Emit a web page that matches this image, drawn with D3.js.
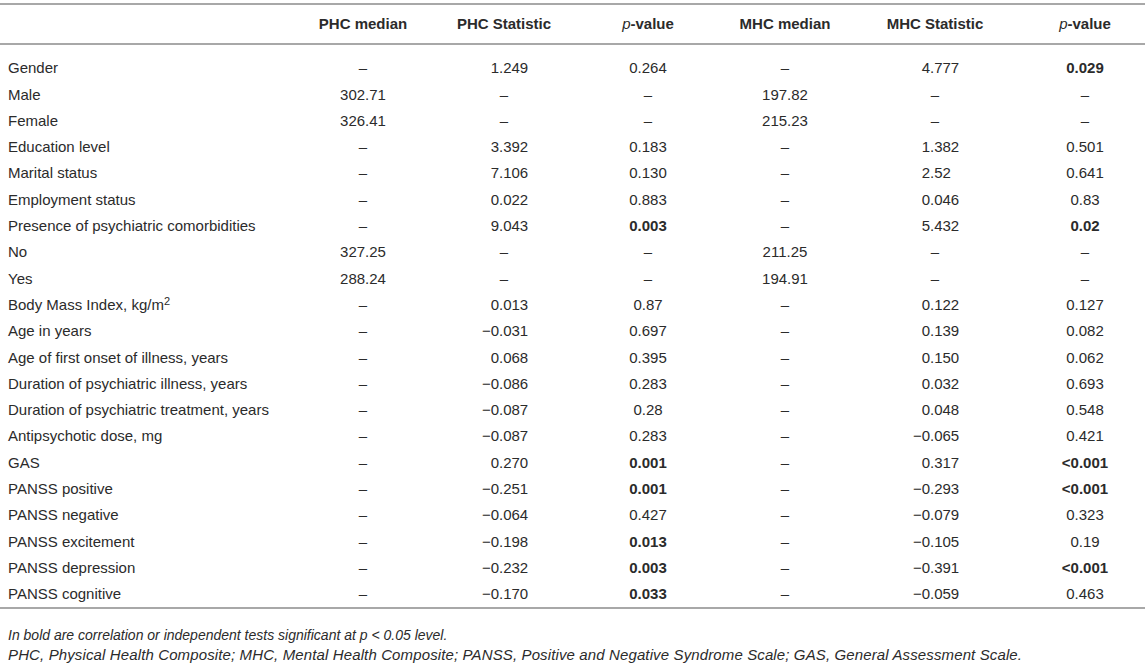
<!DOCTYPE html>
<html>
<head>
<meta charset="utf-8">
<script src="https://cdn.jsdelivr.net/npm/d3@7"></script>
<style>
  body { margin: 0; background: #fff; }
  text { font-family: "Liberation Sans", Arial, sans-serif; fill: #2b2b2b; }
</style>
</head>
<body>
<div id="tabla"></div>
<script>
const WIDTH = 1145;
const HEIGHT = 665;

// table contents
const headers = ["PHC median", "PHC Statistic", "p-value", "MHC median", "MHC Statistic", "p-value"];
const rowLabels = ["Gender", "Male", "Female", "Education level", "Marital status", "Employment status",
  "Presence of psychiatric comorbidities", "No", "Yes", "Body Mass Index, kg/m", "Age in years",
  "Age of first onset of illness, years", "Duration of psychiatric illness, years",
  "Duration of psychiatric treatment, years", "Antipsychotic dose, mg", "GAS", "PANSS positive",
  "PANSS negative", "PANSS excitement", "PANSS depression", "PANSS cognitive"];
const phcMedian = ["–", "302.71", "326.41", "–", "–", "–", "–", "327.25", "288.24", "–", "–", "–", "–", "–", "–", "–", "–", "–", "–", "–", "–"];
const phcStat = ["1.249", "–", "–", "3.392", "7.106", "0.022", "9.043", "–", "–", "0.013", "−0.031", "0.068", "−0.086", "−0.087", "−0.087", "0.270", "−0.251", "−0.064", "−0.198", "−0.232", "−0.170"];
const phcP = ["0.264", "–", "–", "0.183", "0.130", "0.883", "0.003", "–", "–", "0.87", "0.697", "0.395", "0.283", "0.28", "0.283", "0.001", "0.001", "0.427", "0.013", "0.003", "0.033"];
const phcBold = [0, 0, 0, 0, 0, 0, 1, 0, 0, 0, 0, 0, 0, 0, 0, 1, 1, 0, 1, 1, 1];
const mhcMedian = ["–", "197.82", "215.23", "–", "–", "–", "–", "211.25", "194.91", "–", "–", "–", "–", "–", "–", "–", "–", "–", "–", "–", "–"];
const mhcStat = ["4.777", "–", "–", "1.382", "2.52", "0.046", "5.432", "–", "–", "0.122", "0.139", "0.150", "0.032", "0.048", "−0.065", "0.317", "−0.293", "−0.079", "−0.105", "−0.391", "−0.059"];
const mhcP = ["0.029", "–", "–", "0.501", "0.641", "0.83", "0.02", "–", "–", "0.127", "0.082", "0.062", "0.693", "0.548", "0.421", "<0.001", "<0.001", "0.323", "0.19", "<0.001", "0.463"];
const mhcBold = [1, 0, 0, 0, 0, 0, 1, 0, 0, 0, 0, 0, 0, 0, 0, 1, 1, 0, 0, 1, 0];
const notes = [
  "In bold are correlation or independent tests significant at p < 0.05 level.",
  "PHC, Physical Health Composite; MHC, Mental Health Composite; PANSS, Positive and Negative Syndrome Scale; GAS, General Assessment Scale."
];

const FONT = 15;

let svg = d3.select("#tabla")
    .append("svg")
    .attr("width", WIDTH)
    .attr("height", HEIGHT);

// column centres and row positions
let colX = d3.scaleOrdinal()
    .domain(d3.range(6))
    .range([363, 504, 648, 785, 935, 1085]);

let rowY = d3.scalePoint()
    .domain(d3.range(rowLabels.length))
    .range([68, 594]);

// rules
[4, 44, 608].forEach(y => {
    svg.append("line")
        .attr("x1", 0).attr("x2", WIDTH)
        .attr("y1", y).attr("y2", y)
        .style("stroke", "#a8a8a8")
        .style("stroke-width", 2);
});

// header
let head = svg.append("g").attr("class", "header");
headers.forEach((h, i) => {
    let t = head.append("text")
        .attr("x", colX(i))
        .attr("y", 24)
        .attr("dy", "0.35em")
        .attr("text-anchor", "middle")
        .style("font-size", FONT + "px")
        .style("font-weight", "bold");
    if (h.startsWith("p-")) {
        t.append("tspan").style("font-style", "italic").style("font-weight", "normal").text("p");
        t.append("tspan").text("-value");
    } else {
        t.text(h);
    }
});

// row labels
let labels = svg.append("g").selectAll("text")
    .data(rowLabels)
    .enter()
    .append("text")
    .attr("x", 8)
    .attr("y", (d, i) => rowY(i))
    .attr("dy", "0.35em")
    .style("font-size", FONT + "px")
    .text(d => d);

labels.filter(d => d.endsWith("kg/m"))
    .append("tspan")
    .attr("dy", "-0.45em")
    .style("font-size", (FONT - 4) + "px")
    .text("2");

// centred columns
function centred(values, col, bold) {
    svg.append("g").selectAll("text")
        .data(values)
        .enter()
        .append("text")
        .attr("x", colX(col))
        .attr("y", (d, i) => rowY(i))
        .attr("dy", "0.35em")
        .attr("text-anchor", "middle")
        .style("font-size", FONT + "px")
        .style("font-weight", (d, i) => bold && bold[i] ? "bold" : "normal")
        .text(d => d);
}

// statistic columns line up on the decimal point
function decimal(values, col) {
    let g = svg.append("g");
    let decX = colX(col) - 5;
    values.forEach((v, i) => {
        if (v === "–") {
            g.append("text")
                .attr("x", colX(col))
                .attr("y", rowY(i))
                .attr("dy", "0.35em")
                .attr("text-anchor", "middle")
                .style("font-size", FONT + "px")
                .text(v);
            return;
        }
        let k = v.indexOf(".");
        g.append("text")
            .attr("x", decX)
            .attr("y", rowY(i))
            .attr("dy", "0.35em")
            .attr("text-anchor", "end")
            .style("font-size", FONT + "px")
            .text(v.slice(0, k));
        g.append("text")
            .attr("x", decX)
            .attr("y", rowY(i))
            .attr("dy", "0.35em")
            .attr("text-anchor", "start")
            .style("font-size", FONT + "px")
            .text(v.slice(k));
    });
}

centred(phcMedian, 0);
decimal(phcStat, 1);
centred(phcP, 2, phcBold);
centred(mhcMedian, 3);
decimal(mhcStat, 4);
centred(mhcP, 5, mhcBold);

// footnotes
notes.forEach((n, i) => {
    let t = svg.append("text")
        .attr("x", 8)
        .attr("y", 635 + i * 20)
        .attr("dy", "0.35em")
        .style("font-size", i == 0 ? "14px" : "15px")
        .style("font-style", "italic")
        .text(n);
    if (i == 1) {
        t.attr("textLength", 1014).attr("lengthAdjust", "spacing");
    }
});
</script>
</body>
</html>
